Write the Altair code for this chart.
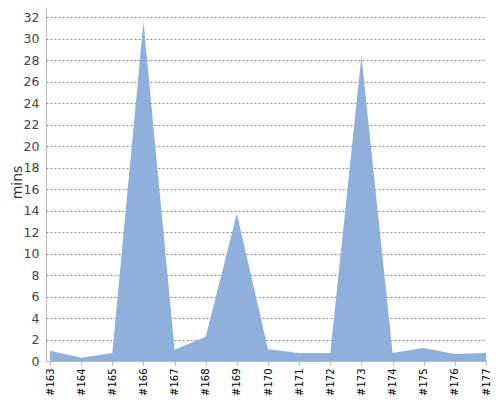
import altair as alt
import pandas as pd

builds = [163, 164, 165, 166, 167, 168, 169, 170, 171, 172, 173, 174, 175, 176, 177]
mins = [0.95, 0.3, 0.75, 31.6, 1.05, 2.25, 13.7, 1.1, 0.75, 0.75, 28.4, 0.75, 1.2, 0.65, 0.75]

df = pd.DataFrame({"build": builds, "mins": mins})

chart = alt.Chart(df).mark_area(color="#8FB0DA", opacity=1).encode(
    x=alt.X("build:Q",
            scale=alt.Scale(domain=[162.87, 177], nice=False, zero=False),
            axis=alt.Axis(values=builds, labelExpr="'#' + datum.value",
                          labelAngle=270, labelAlign="right", labelBaseline="middle",
                          labelFontSize=10, labelColor="#000", labelFont="DejaVu Sans",
                          grid=False, domainColor="#bbb", tickColor="#bbb", tickSize=4,
                          labelPadding=3, title=None, labelOverlap=False)),
    y=alt.Y("mins:Q",
            scale=alt.Scale(domain=[0, 32.87], nice=False),
            axis=alt.Axis(values=list(range(0, 33, 2)), labelFontSize=12.5,
                          labelColor="#444", labelFont="DejaVu Sans",
                          grid=True, gridColor="#888", gridDash=[2, 2], gridWidth=1,
                          domainColor="#bbb", ticks=False, labelPadding=7,
                          title="mins", titleFontSize=14, titleFont="DejaVu Sans",
                          titleFontWeight="normal", titleColor="#333",
                          titleX=-22, titleY=174, titleAngle=270,
                          titleAlign="center", titleBaseline="bottom")),
).properties(
    width=440, height=353,
    autosize=alt.AutoSizeParams(type="none"),
    padding={"left": 38, "top": 0, "right": 6, "bottom": 40},
).configure_view(stroke=None)

chart.save("out.html", embed_options={"renderer": "svg", "actions": False})
